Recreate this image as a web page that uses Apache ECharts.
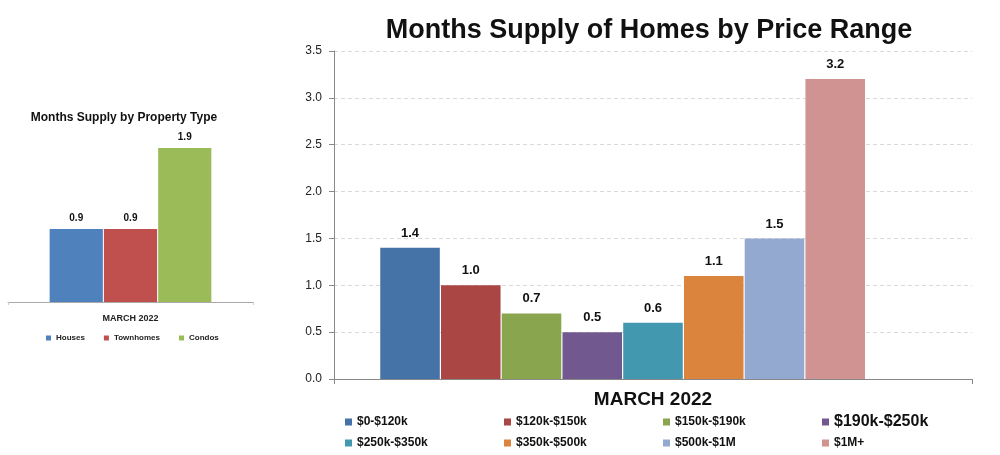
<!DOCTYPE html>
<html>
<head>
<meta charset="utf-8">
<script src="https://cdn.jsdelivr.net/npm/echarts@6/dist/echarts.min.js"></script>
<style>
html, body { margin: 0; padding: 0; background: #fff; }
#main { width: 1000px; height: 455px; }
</style>
</head>
<body>
<div id="main"></div>
<script>
// small chart: supply by property type
var periods = ['MARCH 2022'];
var typeNames = ['Houses', 'Townhomes', 'Condos'];
var typeValues = [0.9, 0.9, 1.9];
var typeColors = ['#4F81BD', '#C0504D', '#9BBB59'];

// big chart: supply by price range
var rangeNames = ['$0-$120k', '$120k-$150k', '$150k-$190k', '$190k-$250k',
                  '$250k-$350k', '$350k-$500k', '$500k-$1M', '$1M+'];
var rangeValues = [1.4, 1.0, 0.7, 0.5, 0.6, 1.1, 1.5, 3.2];
var rangeColors = ['#4572A7', '#AA4643', '#89A54E', '#71588F',
                   '#4198AF', '#DB843D', '#93A9CF', '#D19392'];

var font = 'Liberation Sans, Arial, sans-serif';
var myChart = echarts.init(document.getElementById('main'));

var series = [];
typeNames.forEach(function (name, i) {
    series.push({
        name: name,
        type: 'bar',
        xAxisIndex: 0,
        yAxisIndex: 0,
        barGap: '2%',
        barCategoryGap: '34%',
        itemStyle: { color: typeColors[i] },
        label: {
            show: true, position: 'top', distance: 6,
            fontFamily: font, fontWeight: 'bold', fontSize: 10, color: '#111',
            formatter: function (p) { return p.value.toFixed(1); }
        },
        data: [typeValues[i]]
    });
});
rangeNames.forEach(function (name, i) {
    series.push({
        name: name,
        type: 'bar',
        xAxisIndex: 1,
        yAxisIndex: 1,
        barGap: '2%',
        barCategoryGap: '14.5%',
        itemStyle: { color: rangeColors[i] },
        label: {
            show: true, position: 'top', distance: 8,
            fontFamily: font, fontWeight: 'bold', fontSize: 13, color: '#111',
            formatter: function (p) { return p.value.toFixed(1); }
        },
        data: [rangeValues[i]]
    });
});
// empty slot at the end, like the original (keeps bars off-centre)
series.push({
    name: 'blank', type: 'bar', xAxisIndex: 1, yAxisIndex: 1,
    barGap: '2%', barCategoryGap: '14.5%', data: ['-']
});

var legends = [{
    data: typeNames,
    orient: 'horizontal',
    left: 46, top: 333,
    padding: 0,
    itemWidth: 5, itemHeight: 5, itemGap: 19,
    icon: 'rect',
    textStyle: { fontFamily: font, fontWeight: 'bold', fontSize: 8, color: '#222', lineHeight: 10 }
}];
var colLeft = [345, 504, 663, 822];
var rowMid = [422, 443];
rangeNames.forEach(function (name, i) {
    var big = name === '$190k-$250k';
    legends.push({
        data: [name],
        left: colLeft[i % 4], top: rowMid[Math.floor(i / 4)] - 8,
        padding: 0,
        itemWidth: 7, itemHeight: 7,
        icon: 'rect',
        textStyle: { fontFamily: font, fontWeight: 'bold', fontSize: big ? 16 : 12, color: '#111', lineHeight: 16 }
    });
});

option = {
    animation: false,
    backgroundColor: '#fff',
    title: [
        {
            text: 'Months Supply of Homes by Price Range',
            left: 649, top: 17, padding: 0, textAlign: 'center',
            textStyle: { fontFamily: font, fontWeight: 'bold', fontSize: 27, color: '#111' }
        },
        {
            text: 'Months Supply by Property Type',
            left: 124, top: 112, padding: 0, textAlign: 'center',
            textStyle: { fontFamily: font, fontWeight: 'bold', fontSize: 12, color: '#111' }
        }
    ],
    legend: legends,
    grid: [
        { left: 8, width: 245, top: 140, height: 162 },
        { left: 334, right: 28, top: 51, bottom: 76 }
    ],
    xAxis: [
        {
            type: 'category', gridIndex: 0, data: periods,
            axisLine: { lineStyle: { color: '#aaa' } },
            axisTick: { show: true, length: 3, lineStyle: { color: '#ccc' } },
            axisLabel: { margin: 12, fontFamily: font, fontWeight: 'bold', fontSize: 9, color: '#222' }
        },
        {
            type: 'category', gridIndex: 1, data: periods,
            axisLine: { lineStyle: { color: '#888' } },
            axisTick: { show: true, length: 5, lineStyle: { color: '#888' } },
            axisLabel: { margin: 11, fontFamily: font, fontWeight: 'bold', fontSize: 19, color: '#111' }
        }
    ],
    yAxis: [
        { type: 'value', gridIndex: 0, min: 0, max: 2, show: false },
        {
            type: 'value', gridIndex: 1, min: 0, max: 3.5, interval: 0.5,
            axisLine: { show: true, lineStyle: { color: '#888' } },
            axisTick: { show: true, length: 5, lineStyle: { color: '#888' } },
            axisLabel: {
                margin: 12, fontFamily: font, fontSize: 12, color: '#222',
                formatter: function (v) { return v.toFixed(1); }
            },
            splitLine: { show: true, lineStyle: { color: '#d9d9d9', type: [4, 3] } }
        }
    ],
    series: series
};
myChart.setOption(option);
window.onresize = myChart.resize;
</script>
</body>
</html>
